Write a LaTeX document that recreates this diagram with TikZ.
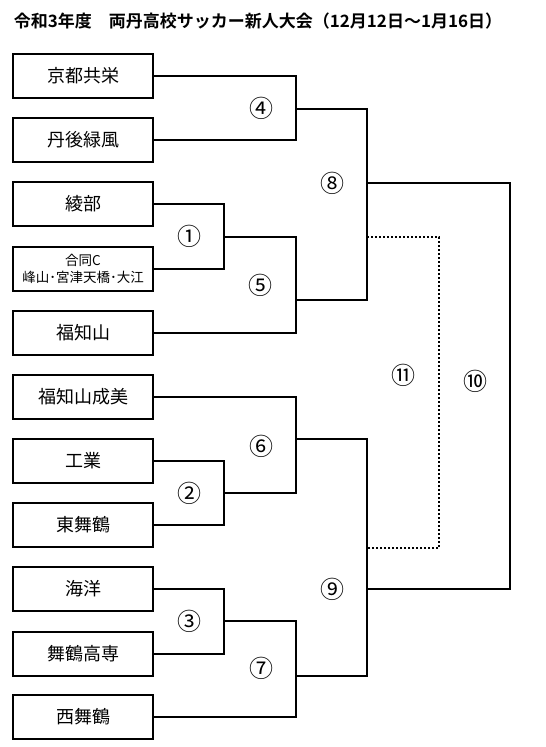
\documentclass[tikz,border=0pt]{standalone}
\usepackage{fontspec}
\setmainfont{Noto Sans CJK JP}[BoldFont={Noto Sans CJK JP Bold}]
\begin{document}
\begin{tikzpicture}[x=1pt,y=-1pt,
  team/.style={draw,line width=2pt,minimum width=140pt,minimum height=44pt,inner sep=0pt,font=\fontsize{18}{20}\selectfont},
  wire/.style={line width=1.8pt},
  dots/.style={line width=2pt,dash pattern=on 2pt off 2pt},
  num/.style={font=\fontsize{24}{24}\selectfont,inner sep=0pt}]
\useasboundingbox (0,0) rectangle (546,747);
\node[font=\bfseries\fontsize{17}{18}\selectfont,inner sep=0pt] (title) at (258,21) {令和3年度　両丹高校サッカー新人大会（12月12日～1月16日）};
% teams
\node[team] (t1) at (83,76) {京都共栄};
\node[team] (t2) at (83,140) {丹後緑風};
\node[team] (t3) at (83,204) {綾部};
\node[team,font=\fontsize{13.5}{17}\selectfont,align=center] (t4) at (83,269) {合同C\\峰山･宮津天橋･大江};
\node[team] (t5) at (83,333) {福知山};
\node[team] (t6) at (83,397) {福知山成美};
\node[team] (t7) at (83,461) {工業};
\node[team] (t8) at (83,525) {東舞鶴};
\node[team] (t9) at (83,589) {海洋};
\node[team] (t10) at (83,654) {舞鶴高専};
\node[team] (t11) at (83,717) {西舞鶴};
% junctions
\coordinate (m1) at (224,237);
\coordinate (m2) at (224,493);
\coordinate (m3) at (224,621);
\coordinate (m4) at (296,109);
\coordinate (m5) at (296,300);
\coordinate (m6) at (296,439);
\coordinate (m7) at (296,676);
\coordinate (m8) at (367,183);
\coordinate (m9) at (367,589);
\coordinate (m10) at (510,381);
\coordinate (m11) at (439,237);
\coordinate (m11b) at (439,548);
% round 1
\draw[wire] (t3.east) -- (t3.east -| m1) -- (t4.east -| m1) -- (t4.east);
\draw[wire] (t7.east) -- (t7.east -| m2) -- (t8.east -| m2) -- (t8.east);
\draw[wire] (t9.east) -- (t9.east -| m3) -- (t10.east -| m3) -- (t10.east);
% round 2
\draw[wire] (t1.east) -- (t1.east -| m4) -- (t2.east -| m4) -- (t2.east);
\draw[wire] (m1) -- (m1 -| m5) -- (t5.east -| m5) -- (t5.east);
\draw[wire] (t6.east) -- (t6.east -| m6) -- (m2 -| m6) -- (m2);
\draw[wire] (m3) -- (m3 -| m7) -- (t11.east -| m7) -- (t11.east);
% semis
\draw[wire] (m4) -- (m4 -| m8) -- (m5 -| m8) -- (m5);
\draw[wire] (m6) -- (m6 -| m9) -- (m7 -| m9) -- (m7);
% final
\draw[wire] (m8) -- (m8 -| m10) -- (m9 -| m10) -- (m9);
% third place (dotted)
\draw[dots] (m11 -| m8) -- (m11) -- (m11b) -- (m11b -| m8);
% labels
\node[num] (n1) at (189,236) {①};
\node[num] (n2) at (189,493) {②};
\node[num] (n3) at (189,621) {③};
\node[num] (n4) at (261,108) {④};
\node[num] (n5) at (260,285) {⑤};
\node[num] (n6) at (261,446) {⑥};
\node[num] (n7) at (261,668) {⑦};
\node[num] (n8) at (332,183) {⑧};
\node[num] (n9) at (332,589) {⑨};
\node[num] (n10) at (475,381) {⑩};
\node[num] (n11) at (403,375) {⑪};
\end{tikzpicture}
\end{document}
